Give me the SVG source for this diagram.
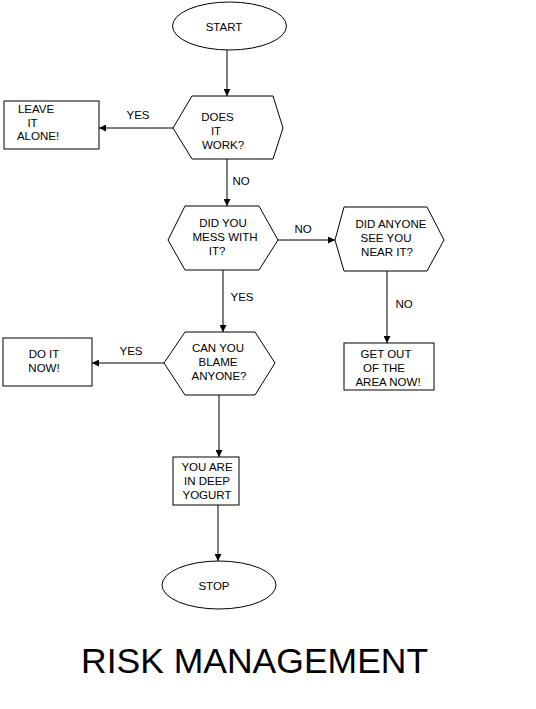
<svg xmlns="http://www.w3.org/2000/svg" width="536" height="709" viewBox="0 0 536 709">
<style>
.s{fill:#fff;stroke:#000;stroke-width:1}
.t{font-family:"Liberation Sans",Arial,sans-serif;font-size:11.5px;fill:#000;text-anchor:middle}
.c{stroke:#000;stroke-width:1;fill:none;marker-end:url(#ah)}
</style>
<defs>
<marker id="ah" viewBox="0 0 10 10" refX="10" refY="5" markerWidth="8" markerHeight="7" markerUnits="userSpaceOnUse" orient="auto">
<path d="M0,0 L10,5 L0,10 z" fill="#000"/>
</marker>
</defs>
<rect width="536" height="709" fill="#fff"/>
<g id="connectors">
<line class="c" x1="227" y1="50" x2="227" y2="96"/>
<line class="c" x1="173" y1="128" x2="99" y2="128"/>
<line class="c" x1="227" y1="159" x2="227" y2="206"/>
<line class="c" x1="278" y1="240" x2="335" y2="240"/>
<line class="c" x1="387" y1="271" x2="387" y2="343"/>
<line class="c" x1="223" y1="270" x2="223" y2="332"/>
<line class="c" x1="164" y1="363" x2="92" y2="363"/>
<line class="c" x1="219" y1="395" x2="219" y2="457"/>
<line class="c" x1="218" y1="505" x2="218" y2="561"/>
<text class="t" x="138" y="119">YES</text>
<text class="t" x="241" y="185">NO</text>
<text class="t" x="303" y="233">NO</text>
<text class="t" x="242" y="301">YES</text>
<text class="t" x="404" y="308">NO</text>
<text class="t" x="131" y="355">YES</text>
</g>
<g id="start">
<ellipse class="s" cx="229.5" cy="26" rx="57" ry="24"/>
<text class="t" x="224" y="31">START</text>
</g>
<g id="does-it-work">
<polygon class="s" points="192,96 273,96 283,128 273,159 192,159 173,128"/>
<text class="t" x="217.5" y="121">DOES</text>
<text class="t" x="216" y="135">IT</text>
<text class="t" x="223" y="149">WORK?</text>
</g>
<g id="leave-it-alone">
<rect class="s" x="4" y="101" width="95" height="48"/>
<text class="t" x="36" y="113">LEAVE</text>
<text class="t" x="32.5" y="127">IT</text>
<text class="t" x="38" y="140">ALONE!</text>
</g>
<g id="did-you-mess">
<polygon class="s" points="185,206 259,206 278,240 259,270 185,270 168,240"/>
<text class="t" x="223" y="227">DID YOU</text>
<text class="t" x="225" y="241">MESS WITH</text>
<text class="t" x="217" y="255">IT?</text>
</g>
<g id="did-anyone-see">
<polygon class="s" points="344,207 427,207 444,240 427,271 344,271 335,240"/>
<text class="t" x="391" y="228">DID ANYONE</text>
<text class="t" x="386" y="242">SEE YOU</text>
<text class="t" x="387" y="256">NEAR IT?</text>
</g>
<g id="get-out">
<rect class="s" x="344" y="343" width="90" height="47"/>
<text class="t" x="386" y="358">GET OUT</text>
<text class="t" x="384" y="372">OF THE</text>
<text class="t" x="388" y="386">AREA NOW!</text>
</g>
<g id="can-you-blame">
<polygon class="s" points="185,332 255,332 275,363 255,395 185,395 164,363"/>
<text class="t" x="218" y="352">CAN YOU</text>
<text class="t" x="218" y="366">BLAME</text>
<text class="t" x="219" y="380">ANYONE?</text>
</g>
<g id="do-it-now">
<rect class="s" x="3" y="338" width="89" height="48"/>
<text class="t" x="44" y="358">DO IT</text>
<text class="t" x="44" y="372">NOW!</text>
</g>
<g id="deep-yogurt">
<rect class="s" x="173" y="457" width="66" height="48"/>
<text class="t" x="207" y="471">YOU ARE</text>
<text class="t" x="207" y="485">IN DEEP</text>
<text class="t" x="207" y="499">YOGURT</text>
</g>
<g id="stop">
<ellipse class="s" cx="219" cy="585" rx="57" ry="24"/>
<text class="t" x="214" y="590">STOP</text>
</g>
<text x="81" y="673" font-family="'Liberation Sans',Arial,sans-serif" font-size="35.5" fill="#000">RISK MANAGEMENT</text>
</svg>
